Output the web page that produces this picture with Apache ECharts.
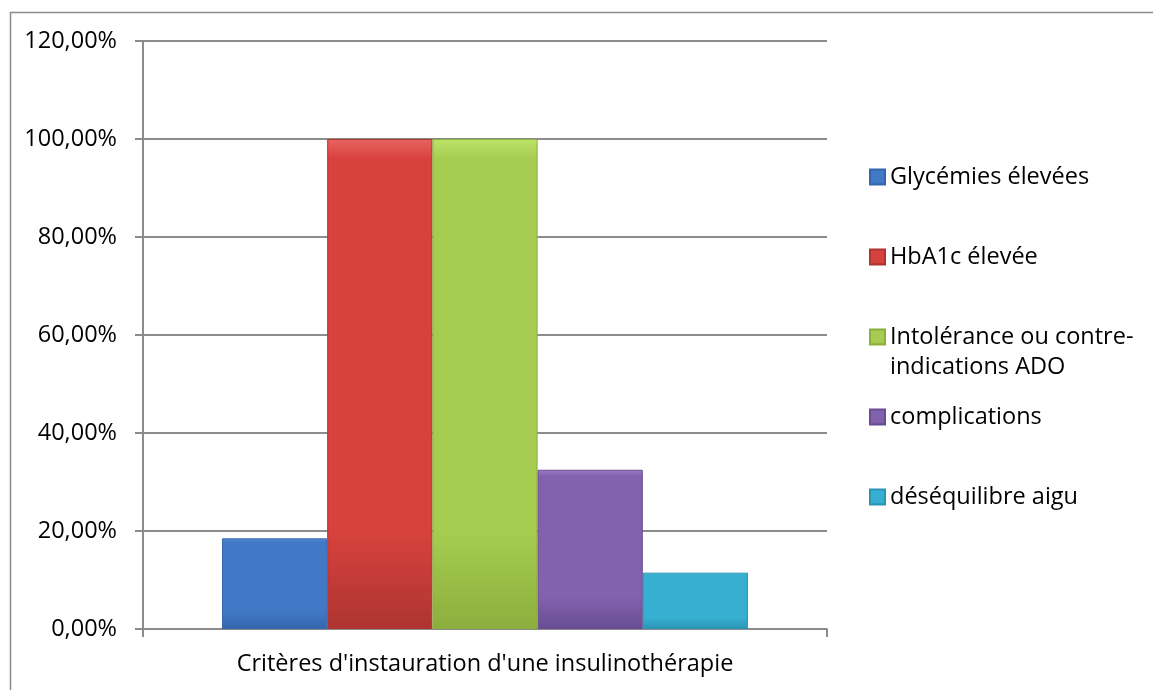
<!DOCTYPE html>
<html>
<head>
<meta charset="utf-8">
<script src="https://cdn.jsdelivr.net/npm/echarts@6/dist/echarts.min.js"></script>
<style>
html,body{margin:0;padding:0;background:#fff;}
#chart{width:1153px;height:690px;}
</style>
</head>
<body>
<div id="chart"></div>
<script>
const category = ["Critères d'instauration d'une insulinothérapie"];
const seriesNames = ["Glycémies élevées", "HbA1c élevée", "Intolérance ou contre-indications ADO", "complications", "déséquilibre aigu"];
const seriesValues = [0.185, 1.0, 1.0, 0.325, 0.115];
const legendLabels = ["Glycémies élevées", "HbA1c élevée", "\nIntolérance ou contre-\nindications ADO", "complications", "déséquilibre aigu"];
const yTicks = [0, 0.2, 0.4, 0.6, 0.8, 1.0, 1.2];

const palette = [
  ['#5a90d8', '#4279c6', '#3566ad'],
  ['#e86460', '#d8423e', '#ad3431'],
  ['#bde46a', '#a6cd50', '#8cae3e'],
  ['#9c7cc6', '#8261ad', '#694d92'],
  ['#5cc9e6', '#37afd1', '#2a94b4']
];
function grad(c) {
  return new echarts.graphic.LinearGradient(0, 0, 0, 1, [
    {offset: 0, color: c[0]},
    {offset: 0.04, color: c[1]},
    {offset: 0.8, color: c[1]},
    {offset: 1, color: c[2]}
  ]);
}
const FONT = 'Open Sans';
const FS = 23.5;
const chart = echarts.init(document.getElementById('chart'), null, {renderer: 'canvas'});

const legendCenters = [177, 257, 337, 417, 497];
const legends = seriesNames.map((n, i) => ({
  data: [n],
  left: 869,
  top: i === 2 ? legendCenters[i] - 45 : legendCenters[i] - 15,
  padding: 0,
  itemWidth: 15,
  itemHeight: 15,
  selectedMode: false,
  icon: 'rect',
  formatter: () => legendLabels[i],
  textStyle: {fontFamily: FONT, fontSize: FS, color: '#000', lineHeight: 30}
}));

chart.setOption({
  animation: false,
  backgroundColor: '#fff',
  color: palette.map(c => c[1]),
  graphic: [{
    type: 'rect', left: 8, top: 10, silent: true,
    shape: {width: 1170, height: 700},
    style: {fill: 'none', stroke: '#8c8c8c', lineWidth: 1.5}
  }],
  legend: legends,
  grid: {left: 143, right: 326, top: 41, bottom: 61, containLabel: false},
  xAxis: {
    type: 'category',
    data: category,
    axisLine: {lineStyle: {color: '#8c8c8c', width: 2}},
    axisTick: {show: true, length: 8, lineStyle: {color: '#8c8c8c', width: 2}},
    axisLabel: {fontFamily: FONT, fontSize: FS, color: '#000', margin: 23}
  },
  yAxis: {
    type: 'value',
    min: 0, max: 1.2, interval: 0.2,
    axisLine: {show: true, lineStyle: {color: '#8c8c8c', width: 2}},
    axisTick: {show: true, length: 8, lineStyle: {color: '#8c8c8c', width: 2}},
    splitLine: {lineStyle: {color: '#8c8c8c', width: 2}},
    axisLabel: {
      fontFamily: FONT, fontSize: FS, color: '#000', margin: 26,
      formatter: v => (v * 100).toFixed(2).replace('.', ',') + '%'
    }
  },
  series: seriesNames.map((n, i) => ({
    name: n,
    type: 'bar',
    data: [seriesValues[i]],
    barGap: 0,
    barCategoryGap: '23.1%',
    itemStyle: {color: grad(palette[i]), borderColor: palette[i][2], borderWidth: 1}
  }))
});
</script>
</body>
</html>
